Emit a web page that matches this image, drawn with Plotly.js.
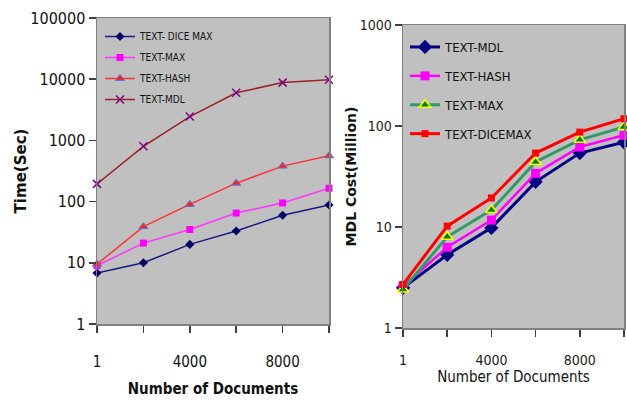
<!DOCTYPE html>
<html><head><meta charset="utf-8">
<script src="https://cdn.plot.ly/plotly-3.0.1.min.js"></script>
<style>html,body{margin:0;padding:0;background:#fff}#chart{width:627px;height:403px}</style>
</head><body><div id="chart"></div>
<script>
// categories (number of documents)
const categories = ['1','2000','4000','6000','8000','10000'];
const shownTicks = ['1','4000','8000'];

// Left chart: Time (Sec)
const timeDiceMax = [6.8, 10, 20, 33, 60, 88];
const timeMax     = [9, 21, 35, 65, 95, 165];
const timeHash    = [9.5, 39, 90, 200, 380, 560];
const timeMdl     = [195, 800, 2450, 6000, 8800, 9800];

// Right chart: MDL Cost (Million)
const costMdl     = [2.5, 5.3, 9.8, 28, 54, 69];
const costHash    = [2.6, 6.3, 11.7, 34, 62, 81];
const costMax     = [2.4, 8, 14.7, 44, 73, 98];
const costDiceMax = [2.7, 10.2, 19.4, 54, 87, 118];

const yTicksLeft = ['1','10','100','1000','10000','100000'];
const yTicksRight = ['1','10','100','1000'];

const xi = categories.map((c,i)=>i);
const tickIdx = shownTicks.map(t=>categories.indexOf(t));
const narrow = '"DejaVu Sans Condensed", "Liberation Sans Narrow", Arial, sans-serif';
const sans = '"DejaVu Sans", "Liberation Sans", Arial, sans-serif';

function tr(name, y, xa, ya, lg, color, lw, sym, msize, mcolor, mline){
  return {x: xi, y: y, name: name, xaxis: xa, yaxis: ya, legend: lg,
    type: 'scatter', mode: 'lines+markers', cliponaxis: false,
    line: {color: color, width: lw},
    marker: {symbol: sym, size: msize, color: mcolor, line: mline || {width: 0}}};
}

const data = [
  tr('TEXT- DICE MAX', timeDiceMax, 'x', 'y', 'legend', '#1a1a80', 1.5, 'diamond', 7, '#000066'),
  tr('TEXT-MAX', timeMax, 'x', 'y', 'legend', '#ff33ff', 1.5, 'square', 7, '#ff00ff'),
  tr('TEXT-HASH', timeHash, 'x', 'y', 'legend', '#ff3333', 1.5, 'triangle-up', 8, '#ff2020', {color:'#5577dd', width:1}),
  tr('TEXT-MDL', timeMdl, 'x', 'y', 'legend', '#992222', 1.5, 'x-thin', 8, '#800080', {color:'#800080', width:1.5}),
  tr('TEXT-MDL', costMdl, 'x2', 'y2', 'legend2', '#000080', 3, 'diamond', 11, '#000080'),
  tr('TEXT-HASH', costHash, 'x2', 'y2', 'legend2', '#ff00ff', 2.5, 'square', 9, '#ff00ff'),
  tr('TEXT-MAX', costMax, 'x2', 'y2', 'legend2', '#339966', 3, 'triangle-up', 10, '#008000', {color:'#ffff00', width:1.5}),
  tr('TEXT-DICEMAX', costDiceMax, 'x2', 'y2', 'legend2', '#ff0000', 3, 'square', 7, '#ff0000')
];
data.forEach((t,i)=>{t.legendgroup = 'g'+i;});

const axisBase = {showgrid: false, zeroline: false, showline: true, linecolor: '#808080', linewidth: 1.5, mirror: true,
  ticks: 'outside', ticklen: 7, tickcolor: '#404040', tickwidth: 1.5};

const layout = {
  width: 627, height: 403, margin: {l: 0, r: 0, t: 0, b: 0},
  paper_bgcolor: '#ffffff', plot_bgcolor: '#c0c0c0', showlegend: true,
  xaxis: Object.assign({}, axisBase, {domain: [97/627, 329/627], anchor: 'y', range: [0, 5],
    tickmode: 'array', tickvals: tickIdx, ticktext: shownTicks, ticklabelstandoff: 16,
    minor: {dtick: 1, tick0: 0, ticks: 'outside', ticklen: 7, tickcolor: '#404040', tickwidth: 1.5, showgrid: false},
    tickfont: {family: narrow, size: 15, color: '#111'},
    title: {text: '<b>Number of Documents</b>', standoff: 14, font: {family: narrow, size: 15, color: '#111'}}}),
  yaxis: Object.assign({}, axisBase, {domain: [79/403, 385/403], anchor: 'x', type: 'log', range: [0, 5],
    tickmode: 'array', tickvals: yTicksLeft.map(Number), ticktext: yTicksLeft,
    tickfont: {family: narrow, size: 16, color: '#111'},
    title: {text: '<b>Time(Sec)</b>', standoff: 0, font: {family: sans, size: 15, color: '#111'}}}),
  xaxis2: Object.assign({}, axisBase, {domain: [403/627, 624/627], anchor: 'y2', range: [0, 5],
    tickmode: 'array', tickvals: tickIdx, ticktext: shownTicks, ticklabelstandoff: 12,
    minor: {dtick: 1, tick0: 0, ticks: 'outside', ticklen: 7, tickcolor: '#404040', tickwidth: 1.5, showgrid: false},
    tickfont: {family: narrow, size: 14, color: '#222'},
    title: {text: 'Number of Documents', standoff: 0, font: {family: narrow, size: 15, color: '#111'}}}),
  yaxis2: Object.assign({}, axisBase, {domain: [75/403, 378/403], anchor: 'x2', type: 'log', range: [0, 3],
    tickmode: 'array', tickvals: yTicksRight.map(Number), ticktext: yTicksRight,
    tickfont: {family: narrow, size: 14, color: '#222'},
    title: {text: '<b>MDL Cost(Million)</b>', standoff: 0, font: {family: sans, size: 14, color: '#111'}}}),
  legend: {x: 100/627, y: 1 - 22/403, xanchor: 'left', yanchor: 'top', bgcolor: 'rgba(0,0,0,0)',
    font: {family: narrow, size: 10, color: '#111'}, tracegroupgap: 2, itemwidth: 30},
  legend2: {x: 405/627, y: 1 - 32/403, xanchor: 'left', yanchor: 'top', bgcolor: 'rgba(0,0,0,0)',
    font: {family: narrow, size: 13, color: '#111'}, tracegroupgap: 9, itemwidth: 30}
};

Plotly.newPlot('chart', data, layout, {displayModeBar: false, staticPlot: true});
</script>
</body></html>
